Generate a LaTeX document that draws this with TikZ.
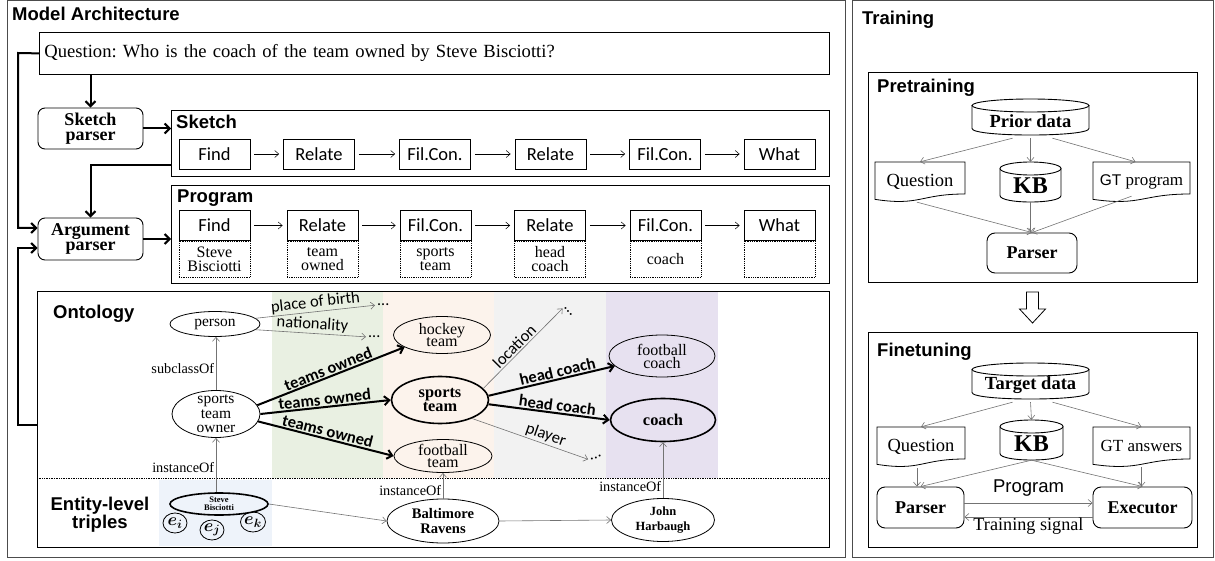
\documentclass[tikz,border=0pt]{standalone}
\usepackage{amsmath}
\usepackage{fontspec}
\setmainfont{Liberation Serif}
\newfontfamily\arialf{Liberation Sans}
\newfontfamily\calf{Carlito}
\usetikzlibrary{shapes.geometric,arrows.meta,calc}
\definecolor{bgreen}{RGB}{233,240,226}
\definecolor{bpeach}{RGB}{252,243,236}
\definecolor{bgray}{RGB}{242,242,242}
\definecolor{bpurple}{RGB}{231,225,240}
\definecolor{bblue}{RGB}{238,243,250}
\newcommand{\fsz}[2]{\fontsize{#1}{#2}\selectfont}
\newcommand{\docshape}[4]{\draw[line width=0.8] (#1,#2) -- (#3,#2) -- (#3,{#2+0.80*(#4-#2)}) .. controls ({(#1+#3)/2},{#2+0.80*(#4-#2)}) and ({(#1+#3)/2},{#2+1.107*(#4-#2)}) .. (#1,{#2+0.934*(#4-#2)}) -- cycle;}
\newcommand{\cylshape}[4]{\draw[line width=0.9] (#1,{#2+6.5}) -- (#1,{#4-6.5}) .. controls (#1,{#4+2.2}) and (#3,{#4+2.2}) .. (#3,{#4-6.5}) -- (#3,{#2+6.5});
\draw[line width=0.9] ({(#1+#3)/2},{#2+6.5}) ellipse [x radius={(#3-#1)/2}, y radius=6.5];}
\frenchspacing
\begin{document}
\begin{tikzpicture}[x=1pt,y=-1pt,
 panel/.style={draw=black!70, line width=1},
 frm/.style={draw, line width=0.9, inner sep=0, anchor=north west},
 ttl/.style={font=\arialf\bfseries\fsz{18.5}{18.5}, inner sep=0, anchor=base west},
 modbox/.style={draw, line width=0.8, minimum width=71, minimum height=30, inner sep=0, font=\calf\fsz{18.5}{18.5}},
 argbox/.style={draw, densely dotted, line width=0.8, minimum width=71, minimum height=36, inner sep=0, align=center, font=\fsz{16}{14}, anchor=north},
 pbox/.style={draw, rounded corners=7, line width=0.9, align=center, inner sep=0, font=\bfseries\fsz{18}{14.5}},
 bigarr/.style={line width=2, -{Straight Barb[length=5pt,width=10pt]}},
 modarr/.style={line width=0.5, -{Straight Barb[length=4pt,width=7pt]}, shorten <=4pt, shorten >=4pt},
 thinarr/.style={draw=black!55, line width=0.6, -{Straight Barb[length=4pt,width=7pt]}},
 tbigarr/.style={line width=2, -{Straight Barb[length=5pt,width=9pt]}},
 ell/.style={ellipse, draw, line width=0.8, inner sep=0},
 boldell/.style={ellipse, draw, line width=1.6, inner sep=0},
 otext/.style={inner sep=0, align=center},
 esans/.style={font=\calf\fsz{16.5}{16.5}, inner sep=1.5},
 ebold/.style={font=\calf\bfseries\fsz{16.5}{16.5}, inner sep=1},
 eserif/.style={font=\fsz{14.3}{14.3}, inner sep=1.5},
 dotsn/.style={font=\calf\fsz{16}{16}, inner sep=0},
 docn/.style={inner sep=0, font=\fsz{18.5}{18.5}},
 cyln/.style={inner sep=0, font=\bfseries\fsz{18.5}{18.5}},
 ]
\useasboundingbox (0,0) rectangle (1215,561);
% bands
\fill[bgreen] (272,291) rectangle (383,478);
\fill[bpeach] (383,291) rectangle (494,478);
\fill[bgray] (494,291) rectangle (606,478);
\fill[bpurple] (606,291) rectangle (718,478);
\fill[bblue] (159,480) rectangle (272,546);
% panels
\draw[panel] (7,1) rectangle (845,557);
\draw[panel] (852,1) rectangle (1213,557);

% ---------- Model architecture ----------
\node[ttl] (tarch) at (12,21) {Model Architecture};
\node[draw, line width=0.8, anchor=north west, minimum width=790, minimum height=42, inner xsep=5, inner ysep=0, text width=780, align=left, font=\fsz{18.6}{18.6}] (q) at (39,32) {Question: Who is the coach of the team owned by Steve Bisciotti?};
\node[pbox, minimum width=105, minimum height=41] (sp) at (90.5,128.5) {Sketch\\parser};
\node[pbox, minimum width=105, minimum height=42] (ap) at (90.5,239) {Argument\\parser};

\node[frm, minimum width=658, minimum height=66] (skb) at (171,110) {};
\node[ttl] (skt) at (176,129) {Sketch};
\node[modbox] (s1) at (214.5,154) {Find};
\node[modbox] (s2) at (319,154) {Relate};
\node[modbox] (s3) at (435,154) {Fil.Con.};
\node[modbox] (s4) at (550.5,154) {Relate};
\node[modbox] (s5) at (665,154) {Fil.Con.};
\node[modbox] (s6) at (779.5,154) {What};
\draw[modarr] (s1) -- (s2);
\draw[modarr] (s2) -- (s3);
\draw[modarr] (s3) -- (s4);
\draw[modarr] (s4) -- (s5);
\draw[modarr] (s5) -- (s6);

\node[frm, minimum width=658, minimum height=98] (pgb) at (171,185) {};
\node[ttl] (pgt) at (177,203) {Program};
\node[modbox] (p1) at (214.5,225.5) {Find};
\node[modbox] (p2) at (322.5,225.5) {Relate};
\node[modbox] (p3) at (435.5,225.5) {Fil.Con.};
\node[modbox] (p4) at (550,225.5) {Relate};
\node[modbox] (p5) at (665.5,225.5) {Fil.Con.};
\node[modbox] (p6) at (779.5,225.5) {What};
\node[argbox] (a1) at (p1.south) {Steve\\Bisciotti};
\node[argbox] (a2) at (p2.south) {team\\owned};
\node[argbox] (a3) at (p3.south) {sports\\team};
\node[argbox] (a4) at (p4.south) {head\\coach};
\node[argbox] (a5) at (p5.south) {coach};
\node[argbox] (a6) at (p6.south) {};
\draw[modarr] (p1) -- (p2);
\draw[modarr] (p2) -- (p3);
\draw[modarr] (p3) -- (p4);
\draw[modarr] (p4) -- (p5);
\draw[modarr] (p5) -- (p6);

\draw[bigarr] (q.south -| sp.north) -- (sp.north);
\draw[bigarr] (sp.east) -- (sp.east -| skb.west);
\coordinate (skl) at (171,165);
\draw[bigarr] (skl) -| (ap.north);
\draw[bigarr] (ap.east) -- (ap.east -| pgb.west);
\coordinate (lq1) at (18,53);
\coordinate (lq2) at (18,228);
\draw[bigarr] (q.west) -- (lq1) -- (lq2) -- (lq2 -| ap.west);

% ---------- Ontology ----------
\node[frm, minimum width=792, minimum height=256] (ont) at (37,291) {};
\coordinate (lo1) at (18,425);
\coordinate (lo2) at (18,248);
\draw[bigarr] (lo1 -| ont.west) -- (lo1) -- (lo2) -- (lo2 -| ap.west);
\coordinate (dl) at (0,478);
\draw[densely dotted, line width=0.7] (ont.west |- dl) -- (ont.east |- dl);
\node[ttl] (tont) at (53,318) {Ontology};
\node[inner sep=0, align=center, font=\arialf\bfseries\fsz{18.5}{16}] (tent) at (100,515) {Entity-level\\triples};

\node[ell, minimum width=90, minimum height=25] (person) at (215,324) {};
\node[otext, font=\fsz{15.5}{15.5}] (persont) at (person) {person};
\node[ell, minimum width=88, minimum height=47] (owner) at (216,414) {};
\node[otext, font=\fsz{15.5}{14.5}] (ownert) at (owner) {sports\\team\\owner};
\node[boldell, minimum width=98, minimum height=22] (steve) at (219,504) {};
\node[otext, font=\bfseries\fsz{8.5}{8}] (stevet) at (steve) {Steve\\Bisciotti};
\node[ell, minimum width=24, minimum height=20] (ei) at (175,523) {};
\node[otext, font=\fsz{17}{17}] (eit) at (ei) {$\boldsymbol{e_i}$};
\node[ell, minimum width=24, minimum height=20] (ej) at (212,530) {};
\node[otext, font=\fsz{17}{17}] (ejt) at (ej) {$\boldsymbol{e_j}$};
\node[ell, minimum width=25, minimum height=20] (ek) at (253,522) {};
\node[otext, font=\fsz{17}{17}] (ekt) at (ek) {$\boldsymbol{e_k}$};
\node[ell, minimum width=97, minimum height=37] (hockey) at (442,335) {};
\node[otext, font=\fsz{16}{12.5}] (hockeyt) at (hockey) {hockey\\team};
\node[boldell, minimum width=97, minimum height=47] (sports) at (440,400) {};
\node[otext, font=\bfseries\fsz{16.3}{14.3}] (sportst) at (sports) {sports\\team};
\node[ell, minimum width=98, minimum height=33] (fteam) at (443,456) {};
\node[otext, font=\fsz{16}{12.5}] (fteamt) at (fteam) {football\\team};
\node[ell, minimum width=112, minimum height=44] (balt) at (443,521) {};
\node[otext, font=\bfseries\fsz{14.6}{15}] (baltt) at (balt) {Baltimore\\Ravens};
\node[ell, minimum width=106, minimum height=42] (fcoach) at (662,356) {};
\node[otext, font=\fsz{16}{13}] (fcoacht) at (fcoach) {football\\coach};
\node[boldell, minimum width=105, minimum height=43] (coach) at (663,420) {};
\node[otext, font=\bfseries\fsz{16.4}{16.4}] (coacht) at (coach) {coach};
\node[ell, minimum width=103, minimum height=43] (john) at (663,520) {};
\node[otext, font=\bfseries\fsz{12.5}{15}] (johnt) at (john) {John\\Harbaugh};

\node[dotsn, anchor=west] (dpob) at (377,305) {...};
\node[dotsn, anchor=west] (dnat) at (368,337) {...};
\node[dotsn, anchor=west, rotate=-49] (dloc) at (564,307) {...};
\node[dotsn, anchor=west, rotate=20] (dply) at (590,460) {...};

\draw[thinarr, shorten >=2pt] (person.8) -- (dpob.west) node[midway, above, sloped, esans] (lpob) {place of birth};
\draw[thinarr, shorten >=2pt] (person.-8) -- (dnat.west) node[midway, above, sloped, esans] (lnat) {nationality};
\draw[tbigarr] (owner.12) -- (hockey.198) node[midway, above, sloped, ebold] (lto1) {teams owned};
\draw[tbigarr] (owner.east) -- (sports.west) node[midway, above, sloped, ebold] (lto2) {teams owned};
\draw[tbigarr] (owner.-10) -- (fteam.west) node[midway, above, sloped, ebold] (lto3) {teams owned};
\draw[thinarr, shorten >=2pt] (sports.15) -- (dloc.west) node[pos=0.45, above, sloped, esans] (lloc) {location};
\draw[tbigarr] (sports.5) -- (fcoach.192) node[pos=0.56, above, sloped, ebold] (lhc1) {head coach};
\draw[tbigarr] (sports.-5) -- (coach.west) node[pos=0.56, above, sloped, ebold] (lhc2) {head coach};
\draw[thinarr, shorten >=2pt] (sports.-30) -- (dply.west) node[pos=0.6, above, sloped, esans] (lply) {player};
\draw[thinarr] (owner.north) -- (owner.north |- person.south) node[pos=0.4, left, eserif] (lsub) {subclassOf};
\draw[thinarr] (owner.south |- steve.north) -- (owner.south) node[pos=0.45, left, eserif] (linst1) {instanceOf};
\draw[thinarr] (balt.north) -- (fteam.south) node[pos=0.3, left, eserif] (linst2) {instanceOf};
\draw[thinarr] (john.north) -- (coach.south) node[pos=0.2, left, eserif] (linst3) {instanceOf};
\draw[thinarr] (steve.east) -- (balt.west);
\draw[thinarr] (balt.east) -- (john.west);

% ---------- Training ----------
\node[ttl] (ttrain) at (862,25) {Training};
\node[frm, minimum width=329, minimum height=210] (pre) at (868,72) {};
\node[ttl] (tpre) at (877,93) {Pretraining};
\cylshape{972}{99}{1089}{135}
\node[cyln, minimum width=117, minimum height=28] (prior) at (1030.5,121) {Prior data};
\docshape{875}{162}{965}{202}
\node[docn, minimum width=90, minimum height=40] (qd1) at (920,182) {\raisebox{3pt}{Question}};
\cylshape{1000}{162}{1061}{202}
\node[cyln, minimum width=61, minimum height=32, font=\bfseries\fsz{24}{24}] (kb1) at (1030.5,186) {KB};
\docshape{1093}{162}{1190}{202}
\node[docn, minimum width=97, minimum height=40, font=\fsz{17}{17}] (gt1) at (1141.5,182) {\raisebox{3pt}{{\arialf\fsz{15.5}{15.5}GT} program}};
\node[pbox, minimum width=90, minimum height=40, rounded corners=8] (par1) at (1032,253) {Parser};
\draw[thinarr] ($(prior.south)+(-18,3)$) -- (qd1.north);
\draw[thinarr] ($(prior.south)+(0,3)$) -- (kb1.north |- qd1.north);
\draw[thinarr] ($(prior.south)+(22,3)$) -- ($(gt1.north)+(-6,0)$);
\draw[thinarr] ($(qd1.south)+(-3,0)$) -- (par1.north);
\draw[thinarr] (kb1.south) -- (kb1.south |- par1.north);
\draw[thinarr] ($(gt1.south)+(-10,-6)$) -- (par1.north);

\draw[line width=0.8] (1026.5,292) -- (1038.5,292) -- (1038.5,309) -- (1045.5,309) -- (1032.5,323) -- (1019.5,309) -- (1026.5,309) -- cycle;

\node[frm, minimum width=329, minimum height=215] (fin) at (868,332) {};
\node[ttl] (tfin) at (877,356) {Finetuning};
\cylshape{972}{363}{1089}{399}
\node[cyln, minimum width=117, minimum height=28] (tgt) at (1030.5,385) {Target data};
\docshape{877}{427}{965}{467}
\node[docn, minimum width=88, minimum height=40] (qd2) at (921,447) {\raisebox{3pt}{Question}};
\cylshape{1000}{420}{1063}{460}
\node[cyln, minimum width=63, minimum height=32, font=\bfseries\fsz{24}{24}] (kb2) at (1031.5,444) {KB};
\docshape{1093}{427}{1190}{467}
\node[docn, minimum width=97, minimum height=40, font=\fsz{17}{17}] (gt2) at (1141.5,447) {\raisebox{3pt}{GT answers}};
\node[pbox, minimum width=87, minimum height=41, rounded corners=8] (par2) at (920.5,507.5) {Parser};
\node[pbox, minimum width=99, minimum height=41, rounded corners=8] (exe) at (1142.5,507.5) {Executor};
\draw[thinarr] ($(tgt.south)+(-18,3)$) -- (qd2.north);
\draw[thinarr] ($(tgt.south)+(0,3)$) -- ($(kb2.north)+(0,-8)$);
\draw[thinarr] ($(tgt.south)+(22,3)$) -- (gt2.north);
\coordinate (qd2b) at ($(qd2.south)+(-4,1)$);
\draw[thinarr] (qd2b) -- (qd2b |- par2.north);
\draw[thinarr] (kb2.south) -- (par2.north);
\draw[thinarr] (kb2.south) -- (exe.north);
\draw[thinarr] (gt2.south) -- (gt2.south |- exe.north);
\draw[thinarr] ($(par2.east)+(0,-4.5)$) -- ($(exe.west)+(0,-4.5)$) node[midway, above=6pt, inner sep=0, font=\arialf\fsz{18.5}{18.5}] (lprog) {Program};
\draw[thinarr] ($(exe.west)+(0,9.5)$) -- ($(par2.east)+(0,9.5)$) node[midway, below=1pt, inner sep=0, font=\fsz{18.2}{18.2}] (lts) {Training signal};
\end{tikzpicture}
\end{document}
